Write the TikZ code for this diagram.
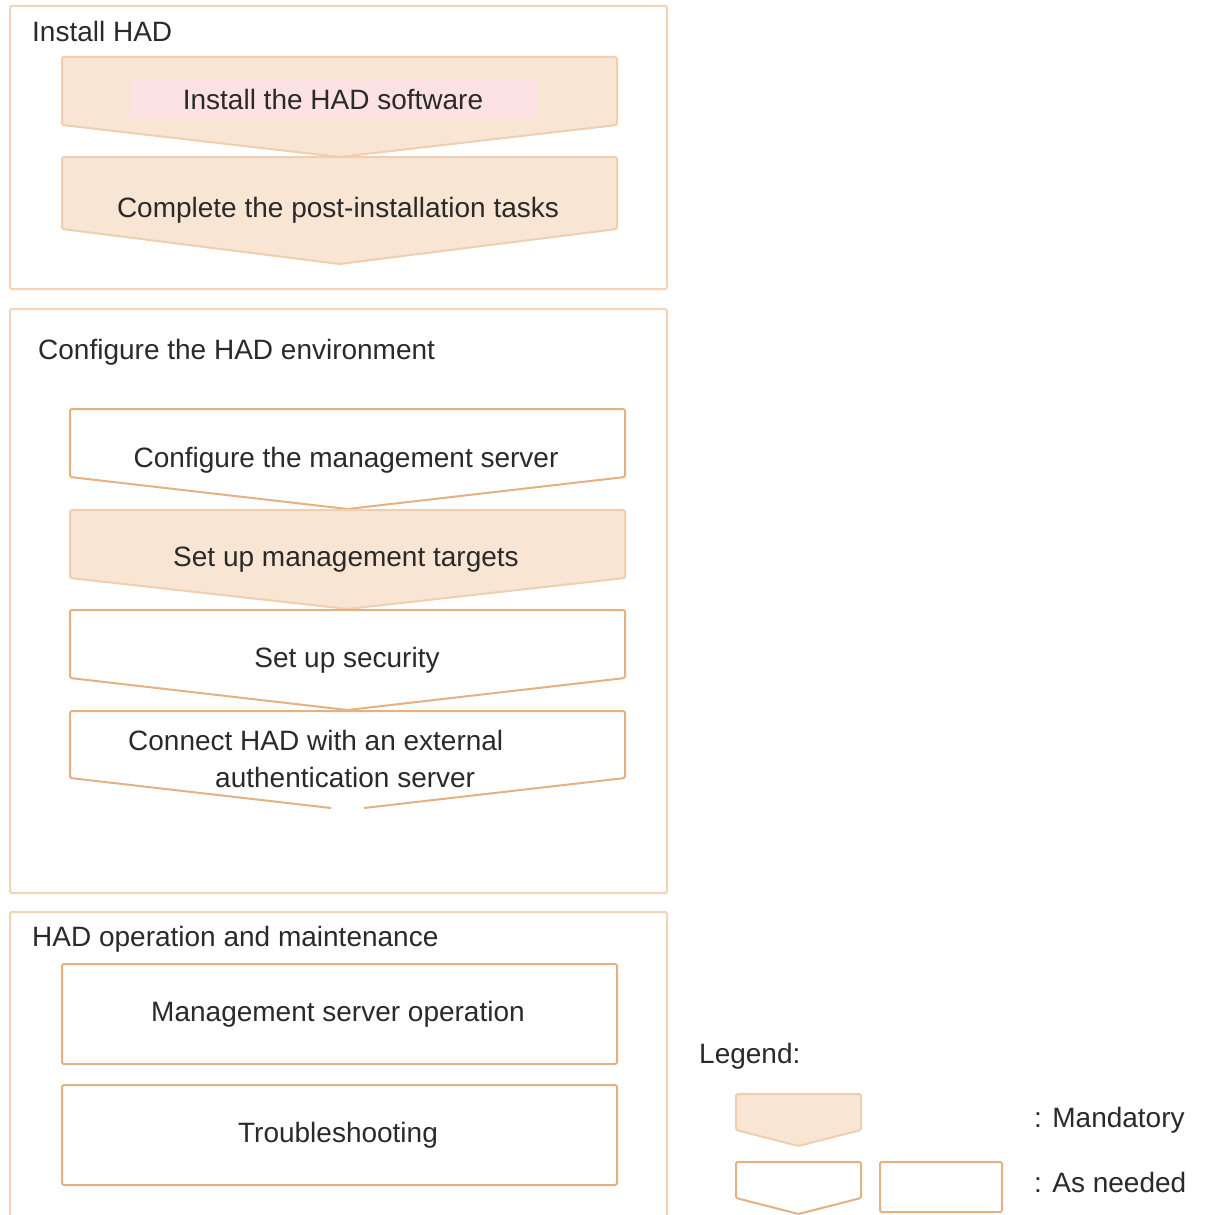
\documentclass[tikz,border=0pt]{standalone}
\usepackage{fontspec}
\setmainfont{Liberation Sans}
\definecolor{panelc}{HTML}{F2D4B8}
\definecolor{edgec}{HTML}{E4B183}
\definecolor{edgem}{HTML}{EFCFB0}
\definecolor{fillm}{HTML}{F8E5D3}
\definecolor{pinkh}{HTML}{FDE2E3}
\definecolor{txtc}{HTML}{2A2A2A}
\newcommand\mychev[6]{\path[#6] (#1,#3) -- (#2,#3) -- (#2,#4) -- ({(#1+#2)/2},#5) -- (#1,#4) -- cycle;}
\begin{document}
\begin{tikzpicture}[x=1pt,y=-1pt,
  panelbox/.style={draw=panelc,line width=2pt,rounded corners=2pt},
  mandbox/.style={draw=edgem,fill=fillm,line width=2pt,rounded corners=1.5pt},
  needbox/.style={draw=edgec,fill=white,line width=2pt,rounded corners=1.5pt},
  lbl/.style={text=txtc,font=\fontsize{28}{34}\selectfont,inner sep=0pt},
  ttl/.style={lbl,anchor=west}]
\clip (0,0) rectangle (1206,1215);
\fill[white] (0,0) rectangle (1206,1215);
% panels
\draw[panelbox] (10,6) rectangle (667,289);
\draw[panelbox] (10,309) rectangle (667,893);
\draw[panelbox] (10,912) rectangle (667,1240);
\node[ttl] (t1) at (32,31) {Install HAD};
\node[ttl] (t2) at (38,352) {Configure the HAD environment};
\node[ttl] (t3) at (32,939) {HAD operation and maintenance};
% panel 1
\mychev{62}{617}{57}{125}{157}{mandbox}
\fill[pinkh] (130,80) rectangle (538,118);
\node[lbl] (a1) at (333,99) {Install the HAD software};
\mychev{62}{617}{157}{229}{264}{mandbox}
\node[lbl] (a2) at (338,210) {Complete the post-installation tasks};
% panel 2
\mychev{70}{625}{409}{477}{509}{needbox}
\node[lbl] (b1) at (346,460) {Configure the management server};
\mychev{70}{625}{510}{578}{609}{mandbox}
\node[lbl] (b2) at (346,560) {Set up management targets};
\mychev{70}{625}{610}{678}{710}{needbox}
\node[lbl] (b3) at (347,660) {Set up security};
\draw[draw=edgec,line width=2pt,rounded corners=1.5pt] (331,808) -- (70,778) -- (70,711) -- (625,711) -- (625,778) -- (364,808);
\node[lbl,anchor=west] (b4) at (128,740) {Connect HAD with an external};
\node[lbl,anchor=west] (b5) at (215,777) {authentication server};
% panel 3
\draw[needbox] (62,964) rectangle (617,1064);
\node[lbl] (c1) at (338,1014) {Management server operation};
\draw[needbox] (62,1085) rectangle (617,1185);
\node[lbl] (c2) at (338,1135) {Troubleshooting};
% legend
\node[ttl] (lg) at (699,1056) {Legend:};
\mychev{736}{861}{1094}{1130}{1146}{mandbox}
\node[ttl] (lm) at (1034,1120) {: Mandatory};
\mychev{736}{861}{1162}{1198}{1214}{needbox}
\draw[needbox] (880,1162) rectangle (1002,1212);
\node[ttl] (ln) at (1034,1182) {: As needed};
\end{tikzpicture}
\end{document}
